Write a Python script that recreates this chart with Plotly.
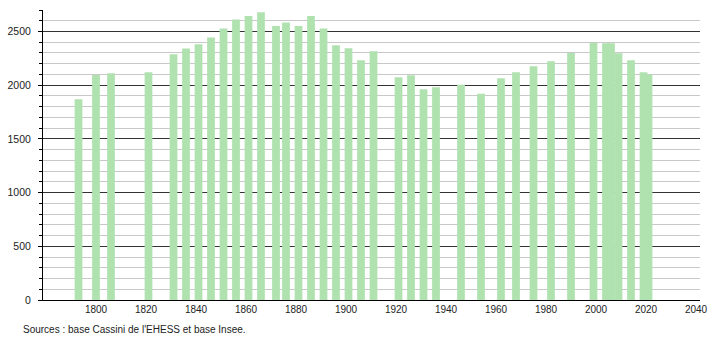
import plotly.graph_objects as go

years = [1793, 1800, 1806, 1821, 1831, 1836, 1841, 1846, 1851, 1856, 1861, 1866,
         1872, 1876, 1881, 1886, 1891, 1896, 1901, 1906, 1911, 1921, 1926, 1931,
         1936, 1946, 1954, 1962, 1968, 1975, 1982, 1990, 1999, 2004, 2006, 2009,
         2014, 2019, 2021]
population = [1868, 2095, 2111, 2120, 2288, 2341, 2382, 2444, 2528, 2612, 2643, 2678,
              2550, 2584, 2550, 2643, 2528, 2372, 2344, 2232, 2316, 2073, 2092, 1961,
              1980, 2005, 1921, 2064, 2120, 2176, 2223, 2300, 2394, 2391, 2391, 2298,
              2232, 2120, 2099]
x_ticks = list(range(1800, 2041, 20))
y_ticks = list(range(0, 2501, 500))
source_text = "Sources : base Cassini de l'EHESS et base Insee."

font = "Liberation Sans, Arial, sans-serif"

fig = go.Figure()
fig.add_trace(go.Bar(
    x=years, y=population, width=3.1,
    marker=dict(color="#b0e2b0", line=dict(width=0)),
    hoverinfo="x+y",
))

fig.update_layout(
    width=710, height=340,
    margin=dict(l=43, r=10, t=10, b=40, autoexpand=False),
    paper_bgcolor="white", plot_bgcolor="white",
    showlegend=False,
    font=dict(family=font, size=10, color="#222"),
    xaxis=dict(
        range=[1778.8, 2041.6],
        tickvals=x_ticks, ticktext=[str(v) for v in x_ticks],
        showgrid=False, zeroline=False, automargin=False,
        showline=True, linecolor="#000", linewidth=1,
        ticks="", tickfont=dict(size=10, color="#222"),
        fixedrange=True,
    ),
    yaxis=dict(
        range=[0, 2700], automargin=False,
        tickvals=y_ticks, ticktext=[str(v) for v in y_ticks],
        showgrid=True, gridcolor="#333", gridwidth=1,
        zeroline=False,
        showline=True, linecolor="#000", linewidth=1,
        ticks="outside", ticklen=4, tickcolor="#000",
        ticklabelstandoff=5,
        tickfont=dict(size=10.5, color="#222"),
        minor=dict(dtick=100, showgrid=True, gridcolor="#c8c8c8", gridwidth=1,
                   ticks="outside", ticklen=3, tickcolor="#000"),
        fixedrange=True,
    ),
    annotations=[dict(
        text=source_text, xref="paper", yref="paper", x=0, y=0,
        xanchor="left", yanchor="middle", xshift=-22, yshift=-29,
        showarrow=False, font=dict(size=10, color="#222", family=font),
    )],
)

fig.write_html("out.html")
